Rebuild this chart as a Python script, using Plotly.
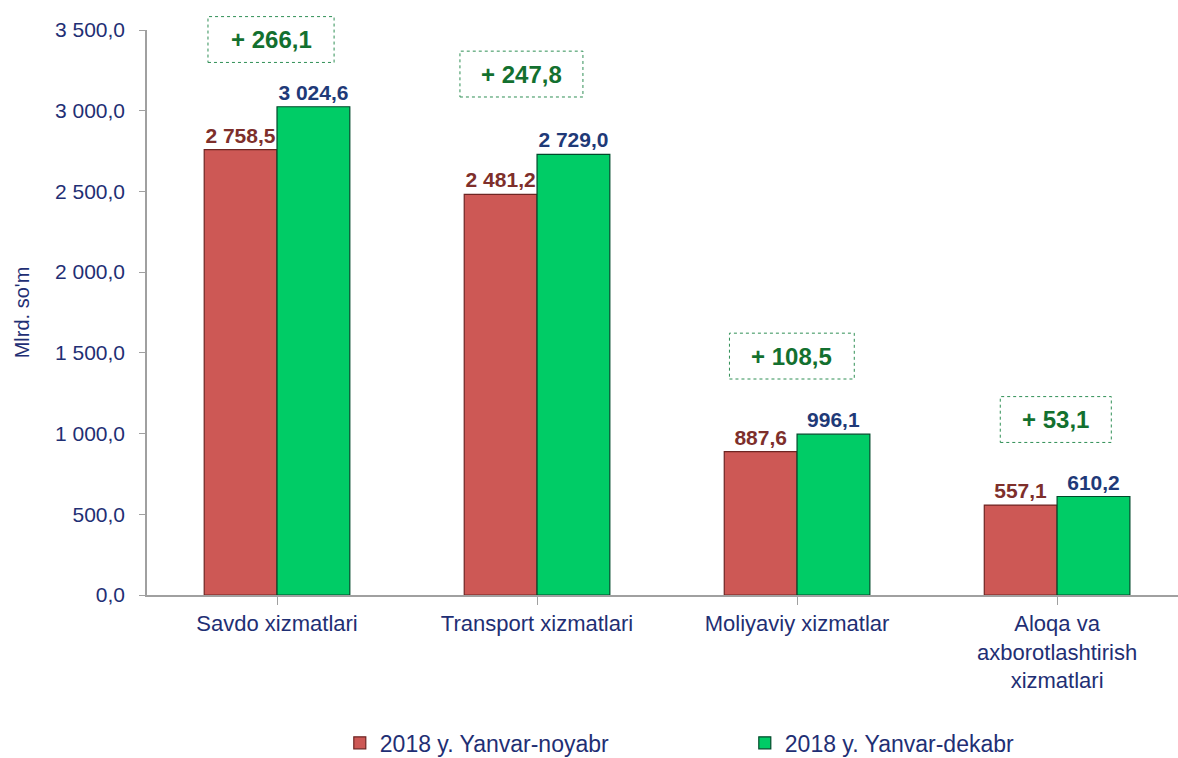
import plotly.graph_objects as go

# ---- data ----
categories = ["Savdo xizmatlari", "Transport xizmatlari", "Moliyaviy xizmatlar",
              "Aloqa va<br>axborotlashtirish<br>xizmatlari"]
nov_values = [2758.5, 2481.2, 887.6, 557.1]
dec_values = [3024.6, 2729.0, 996.1, 610.2]
diff_labels = ["+ 266,1", "+ 247,8", "+ 108,5", "+ 53,1"]
series_names = ["2018 y. Yanvar-noyabr", "2018 y. Yanvar-dekabr"]
y_ticks = [0, 500, 1000, 1500, 2000, 2500, 3000, 3500]
y_tick_labels = ["0,0", "500,0", "1 000,0", "1 500,0", "2 000,0", "2 500,0", "3 000,0", "3 500,0"]

# ---- layout helpers (positions of the difference boxes) ----
box_y = [3441, 3227, 1480, 1087]
box_dx = [-0.023, -0.06, -0.02, -0.005]
box_w = [0.485, 0.473, 0.48, 0.427]
box_hh = 142
Y_MAX = 3500


def fmt(v):
    s = f"{v:,.1f}"
    return s.replace(",", " ").replace(".", ",")


FONT = "Liberation Sans, Arial, sans-serif"
NAVY = "#1F2F74"
x = list(range(len(categories)))

fig = go.Figure()
fig.add_trace(go.Bar(
    x=x, y=nov_values, name=series_names[0],
    marker=dict(color="#CD5855", line=dict(color="#6E2523", width=1.2)),
    text=["<b>" + fmt(v) + "</b>" for v in nov_values], textposition="outside",
    textfont=dict(family=FONT, size=21, color="#7E2F2B"),
    constraintext="none", cliponaxis=False,
))
fig.add_trace(go.Bar(
    x=x, y=dec_values, name=series_names[1],
    marker=dict(color="#00CC66", line=dict(color="#00492A", width=1.2)),
    text=["<b>" + fmt(v) + "</b>" for v in dec_values], textposition="outside",
    textfont=dict(family=FONT, size=21, color="#1F3A78"),
    constraintext="none", cliponaxis=False,
))

for i, lbl in enumerate(diff_labels):
    cx = i + box_dx[i]
    yy = box_y[i]
    hw = box_w[i] / 2
    fig.add_shape(type="rect", xref="x", yref="paper",
                  x0=cx - hw, x1=cx + hw,
                  y0=(yy - box_hh) / Y_MAX, y1=(yy + box_hh) / Y_MAX,
                  line=dict(color="#2F8F55", width=1, dash="dot"),
                  fillcolor="rgba(0,0,0,0)")
    fig.add_annotation(x=cx, y=yy, xref="x", yref="y", text="<b>" + lbl + "</b>",
                       showarrow=False,
                       font=dict(family=FONT, size=24, color="#13702F"))

fig.update_layout(
    width=1178, height=758,
    margin=dict(l=147, r=0, t=30, b=163, autoexpand=False),
    paper_bgcolor="white", plot_bgcolor="white",
    barmode="group", bargap=0.44, bargroupgap=0,
    font=dict(family=FONT, size=20, color=NAVY),
    showlegend=True,
    legend=dict(orientation="h", x=0.187, y=0.02, xref="paper", yref="container",
                xanchor="left", yanchor="middle",
                font=dict(family=FONT, size=23, color=NAVY),
                entrywidth=360, entrywidthmode="pixels", itemwidth=30,
                bgcolor="rgba(0,0,0,0)"),
)
fig.update_xaxes(
    range=[-0.5, 3.465], tickmode="array", tickvals=x, ticktext=categories,
    showline=True, linecolor="#A0A0A0", linewidth=1.5,
    ticks="outside", tickson="boundaries", ticklen=8, tickcolor="#A0A0A0",
    tickfont=dict(family=FONT, size=22, color=NAVY),
    showgrid=False, zeroline=False, automargin=False,
)
fig.update_yaxes(
    range=[0, Y_MAX], tickmode="array", tickvals=y_ticks, ticktext=y_tick_labels,
    showline=True, linecolor="#A0A0A0", linewidth=1.5,
    ticks="outside", ticklen=6, tickcolor="#A0A0A0",
    tickfont=dict(family=FONT, size=21, color=NAVY),
    ticklabelstandoff=10,
    showgrid=False, zeroline=False, automargin=False,
    title=dict(text="Mlrd. so'm", font=dict(family=FONT, size=20, color=NAVY), standoff=20),
)

fig.write_html("out.html", config={"displayModeBar": False},
               post_script="document.body.style.margin='0';document.body.style.overflow='hidden';")
